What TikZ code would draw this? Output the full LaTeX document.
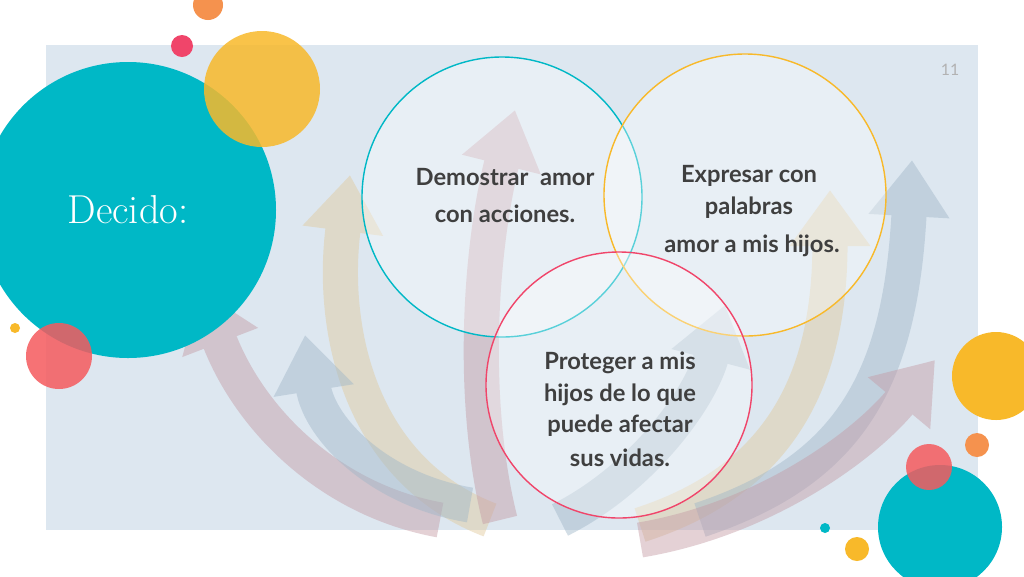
\documentclass[tikz,border=0pt]{standalone}
\usepackage{fontspec}
\newfontfamily\lato{Lato}
\usetikzlibrary{arrows.meta}
\definecolor{bgpanel}{HTML}{DDE7F0}
\definecolor{cteal}{HTML}{00B8C6}
\definecolor{cyel}{HTML}{F8B92A}
\definecolor{cred}{HTML}{F55A5E}
\definecolor{corange}{HTML}{F5924E}
\definecolor{cpink}{HTML}{F0456A}
\definecolor{abeige}{HTML}{E0C99A}
\definecolor{apink}{HTML}{C49AA4}
\definecolor{ablue}{HTML}{9FB6C8}
\definecolor{txt}{HTML}{3F3F3F}
\tikzset{
  fatarrow/.style={line width=20pt,-{Triangle[width=44pt,length=32pt]}},
  lbl/.style={font=\lato\bfseries\fontsize{13.5}{16}\selectfont, text=txt, align=center},
  ring/.style={line width=0.8pt, fill=white, fill opacity=0.35}
}
\begin{document}
\begin{tikzpicture}[x=0.02cm,y=-0.02cm]
\useasboundingbox (0,0) rectangle (1024,576);
\fill[white] (0,0) rectangle (1024,576);
\fill[bgpanel] (46,45) rectangle (978,530);
\node[text=gray!60, font=\lato\small] (pg) at (950,70) {11};
% arrows
\begin{scope}[transparency group, opacity=0.45]
\draw[fatarrow, abeige] (490,520) .. controls (360,470) and (330,330) .. (350,175);
\end{scope}
\begin{scope}[transparency group, opacity=0.45]
\draw[fatarrow, apink] (500,520) .. controls (470,400) and (480,250) .. (515,110);
\end{scope}
\begin{scope}[transparency group, opacity=0.45]
\draw[fatarrow, abeige] (640,525) .. controls (780,480) and (830,380) .. (830,190);
\end{scope}
\begin{scope}[transparency group, opacity=0.45]
\draw[fatarrow, ablue] (700,520) .. controls (850,470) and (900,380) .. (912,160);
\end{scope}
\begin{scope}[transparency group, opacity=0.45]
\draw[fatarrow, apink] (440,520) .. controls (330,500) and (250,420) .. (200,290);
\end{scope}
\begin{scope}[transparency group, opacity=0.45]
\draw[fatarrow, ablue] (470,505) .. controls (380,490) and (320,430) .. (305,335);
\end{scope}
\begin{scope}[transparency group, opacity=0.45]
\draw[fatarrow, ablue] (560,520) .. controls (640,480) and (700,400) .. (725,305);
\end{scope}
\begin{scope}[transparency group, opacity=0.45]
\draw[fatarrow, apink] (640,540) .. controls (760,520) and (860,450) .. (935,360);
\end{scope}
% rings
\draw[ring, draw=cteal] (502,197) circle (140);
\draw[ring, draw=cyel] (745,195) circle (141);
\draw[ring, draw=cpink] (619,385) circle (133);
% left decorations
\fill[cteal] (128,210) circle (148);
\fill[cyel, opacity=0.85] (262,89) circle (58);
\fill[corange] (208,5) circle (15);
\fill[cpink] (182,46) circle (11);
\fill[cred, opacity=0.85] (59,356) circle (33);
\fill[cyel] (15,328) circle (5);
\node[text=white, font=\fontsize{23}{26}\selectfont] (dec) at (128,210) {Decido:};
% right decorations
\fill[cyel] (996,376) circle (44);
\fill[corange] (977,445) circle (12);
\fill[cteal] (940,527) circle (62);
\fill[cred, opacity=0.85] (929,467) circle (23);
\fill[cteal] (825,528) circle (5);
\fill[cyel] (857,549) circle (12);
% labels
\node[lbl] (t1a) at (505,177) {Demostrar\ \ amor};
\node[lbl] (t1b) at (505,214) {con acciones.};
\node[lbl] (t2a) at (749,176) {Expresar con};
\node[lbl] (t2b) at (749,208) {palabras};
\node[lbl] (t2c) at (752,246) {amor a mis hijos.};
\node[lbl] (t3a) at (620,363) {Proteger a mis};
\node[lbl] (t3b) at (620,395) {hijos de lo que};
\node[lbl] (t3c) at (620,426) {puede afectar};
\node[lbl] (t3d) at (620,458) {sus vidas.};
\end{tikzpicture}
\end{document}
